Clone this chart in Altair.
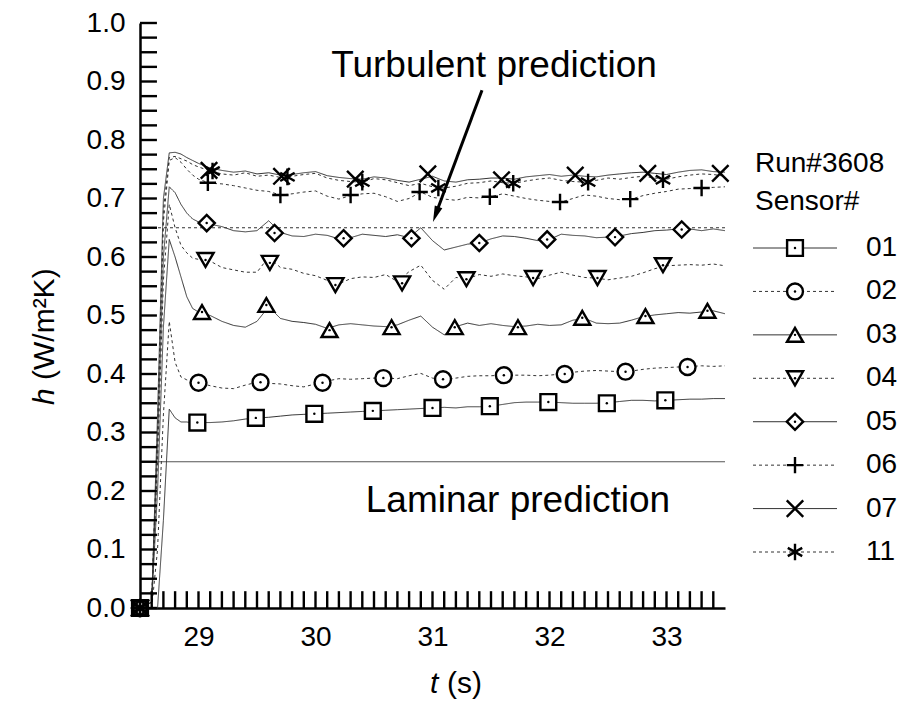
import altair as alt
import pandas as pd

FONT = "Liberation Sans"

SENSORS = ["01", "02", "03", "04", "05", "06", "07", "11"]

# time grid (s)
T = [28.5, 28.6, 28.65, 28.7, 28.75, 28.8, 28.85, 28.9, 28.95,
     29.0, 29.1, 29.2, 29.3, 29.4, 29.5, 29.6, 29.7, 29.8, 29.9,
     30.0, 30.1, 30.2, 30.3, 30.4, 30.5, 30.6, 30.7, 30.8, 30.9,
     31.0, 31.1, 31.2, 31.3, 31.4, 31.5, 31.6, 31.7, 31.8, 31.9,
     32.0, 32.1, 32.2, 32.3, 32.4, 32.5, 32.6, 32.7, 32.8, 32.9,
     33.0, 33.1, 33.2, 33.3, 33.4, 33.5]

H01 = [0, 0, 0.0, 0.15, 0.34, 0.325, 0.318, 0.318, 0.316,
       0.317, 0.317, 0.318, 0.320, 0.323, 0.325, 0.326, 0.328, 0.330, 0.331,
       0.332, 0.333, 0.334, 0.335, 0.336, 0.337, 0.338, 0.339, 0.340, 0.341,
       0.342, 0.343, 0.342, 0.344, 0.344, 0.345, 0.348, 0.351, 0.352, 0.352,
       0.352, 0.351, 0.350, 0.350, 0.350, 0.351, 0.353, 0.355, 0.355, 0.354,
       0.355, 0.356, 0.357, 0.357, 0.358, 0.358]
H02 = [0, 0, 0.1, 0.33, 0.49, 0.42, 0.395, 0.39, 0.387,
       0.385, 0.380, 0.376, 0.375, 0.381, 0.386, 0.384, 0.383, 0.380, 0.378,
       0.383, 0.388, 0.392, 0.391, 0.392, 0.393, 0.393, 0.392, 0.397, 0.401,
       0.393, 0.391, 0.393, 0.396, 0.397, 0.397, 0.398, 0.398, 0.398, 0.397,
       0.398, 0.400, 0.403, 0.405, 0.406, 0.405, 0.404, 0.405, 0.408, 0.410,
       0.411, 0.412, 0.413, 0.414, 0.413, 0.414]
H03 = [0, 0.01, 0.2, 0.48, 0.63, 0.60, 0.566, 0.532, 0.512,
       0.506, 0.500, 0.490, 0.483, 0.480, 0.490, 0.515, 0.495, 0.490, 0.488,
       0.485, 0.478, 0.484, 0.486, 0.484, 0.482, 0.481, 0.484, 0.492, 0.499,
       0.480, 0.467, 0.481, 0.487, 0.483, 0.486, 0.483, 0.481, 0.482, 0.485,
       0.483, 0.484, 0.492, 0.495, 0.487, 0.486, 0.487, 0.492, 0.498, 0.501,
       0.503, 0.505, 0.504, 0.506, 0.508, 0.503]
H04 = [0, 0.01, 0.25, 0.56, 0.69, 0.65, 0.62, 0.607, 0.598,
       0.596, 0.593, 0.582, 0.578, 0.574, 0.574, 0.600, 0.582, 0.579, 0.572,
       0.568, 0.560, 0.554, 0.563, 0.566, 0.565, 0.570, 0.558, 0.575, 0.586,
       0.560, 0.545, 0.565, 0.563, 0.570, 0.567, 0.571, 0.568, 0.566, 0.563,
       0.569, 0.574, 0.569, 0.565, 0.564, 0.561, 0.564, 0.567, 0.573, 0.580,
       0.585, 0.586, 0.587, 0.586, 0.588, 0.585]
H05 = [0, 0.01, 0.28, 0.60, 0.72, 0.71, 0.69, 0.675, 0.665,
       0.660, 0.656, 0.652, 0.645, 0.643, 0.645, 0.662, 0.642, 0.636, 0.635,
       0.639, 0.637, 0.631, 0.633, 0.639, 0.637, 0.635, 0.638, 0.633, 0.650,
       0.628, 0.612, 0.617, 0.622, 0.624, 0.631, 0.636, 0.635, 0.632, 0.628,
       0.630, 0.639, 0.637, 0.636, 0.633, 0.634, 0.636, 0.640, 0.642, 0.645,
       0.646, 0.648, 0.648, 0.645, 0.648, 0.645]
H06 = [0, 0.01, 0.3, 0.66, 0.765, 0.77, 0.762, 0.75, 0.74,
       0.733, 0.726, 0.725, 0.722, 0.718, 0.714, 0.712, 0.706, 0.708, 0.711,
       0.713, 0.704, 0.699, 0.705, 0.708, 0.709, 0.703, 0.695, 0.700, 0.711,
       0.702, 0.699, 0.697, 0.702, 0.701, 0.703, 0.708, 0.704, 0.700, 0.697,
       0.695, 0.694, 0.700, 0.706, 0.704, 0.700, 0.698, 0.699, 0.705, 0.709,
       0.712, 0.716, 0.717, 0.718, 0.719, 0.720]
H07 = [0, 0.01, 0.33, 0.70, 0.778, 0.779, 0.776, 0.77, 0.765,
       0.760, 0.752, 0.748, 0.745, 0.747, 0.742, 0.744, 0.740, 0.741, 0.744,
       0.746, 0.739, 0.736, 0.734, 0.733, 0.737, 0.735, 0.731, 0.728, 0.733,
       0.738, 0.730, 0.728, 0.732, 0.733, 0.735, 0.735, 0.733, 0.737, 0.739,
       0.741, 0.738, 0.740, 0.738, 0.737, 0.740, 0.742, 0.744, 0.745, 0.743,
       0.741, 0.745, 0.748, 0.749, 0.746, 0.745]
H11 = [0, 0.01, 0.3, 0.68, 0.77, 0.772, 0.768, 0.764, 0.758,
       0.754, 0.747, 0.742, 0.740, 0.744, 0.738, 0.740, 0.736, 0.738, 0.741,
       0.743, 0.735, 0.731, 0.729, 0.728, 0.734, 0.732, 0.727, 0.722, 0.726,
       0.720, 0.718, 0.721, 0.726, 0.727, 0.730, 0.727, 0.726, 0.730, 0.733,
       0.735, 0.731, 0.729, 0.728, 0.731, 0.735, 0.733, 0.736, 0.738, 0.735,
       0.733, 0.737, 0.740, 0.742, 0.741, 0.738]

# marker positions
MT01 = [28.5, 28.99, 29.49, 29.99, 30.49, 31.0, 31.49, 31.99, 32.49, 32.99]
MH01 = [0.0, 0.317, 0.325, 0.332, 0.337, 0.342, 0.345, 0.352, 0.350, 0.355]
MT02 = [28.5, 29.0, 29.53, 30.06, 30.58, 31.09, 31.61, 32.13, 32.65, 33.18]
MH02 = [0.0, 0.385, 0.386, 0.385, 0.393, 0.391, 0.398, 0.400, 0.404, 0.412]
MT03 = [28.5, 29.03, 29.58, 30.12, 30.65, 31.19, 31.73, 32.28, 32.82, 33.35]
MH03 = [0.0, 0.506, 0.518, 0.475, 0.480, 0.480, 0.480, 0.496, 0.499, 0.508]
MT04 = [28.5, 29.06, 29.61, 30.17, 30.74, 31.29, 31.86, 32.41, 32.97]
MH04 = [0.0, 0.595, 0.590, 0.552, 0.555, 0.562, 0.564, 0.564, 0.586]
MT05 = [28.5, 29.07, 29.65, 30.24, 30.82, 31.40, 31.98, 32.56, 33.13]
MH05 = [0.0, 0.658, 0.641, 0.632, 0.632, 0.624, 0.630, 0.634, 0.647]
MT06 = [28.5, 29.08, 29.70, 30.30, 30.89, 31.49, 32.09, 32.69, 33.30]
MH06 = [0.0, 0.727, 0.706, 0.706, 0.711, 0.703, 0.694, 0.699, 0.718]
MT07 = [28.5, 29.09, 29.71, 30.34, 30.96, 31.59, 32.22, 32.84, 33.46]
MH07 = [0.0, 0.748, 0.738, 0.733, 0.742, 0.732, 0.740, 0.743, 0.743]
MT11 = [28.5, 29.12, 29.76, 30.40, 31.05, 31.69, 32.33, 32.97]
MH11 = [0.0, 0.747, 0.737, 0.728, 0.718, 0.726, 0.728, 0.732]

LAMINAR = 0.25
TURBULENT = 0.65
T_RANGE = [28.5, 33.5]
H_RANGE = [0.0, 1.0]

ANNOT_LABELS = ["Turbulent prediction", "Laminar prediction"]
ANNOT_T = [31.526, 31.73]
ANNOT_H = [0.908, 0.164]

ARROW_T = [31.423, 31.04]
ARROW_H = [0.885, 0.68]
ARROW_TIP = [31.004, 0.66]

X_TICKS = [29, 30, 31, 32, 33]
Y_TICKS = [0.0, 0.1, 0.2, 0.3, 0.4, 0.5, 0.6, 0.7, 0.8, 0.9, 1.0]

LEGEND_HEADER = ["Run#3608", "Sensor#"]

# ---------------- styles ----------------
DASHES = [[1, 0], [4, 2], [1.5, 2], [6, 3], [6, 2, 1.5, 2], [2, 2], [10, 1.5], [1.5, 1.5]]
PLUS = "M-1,0L1,0M0,-1L0,1"
XSHAPE = "M-1,-1L1,1M-1,1L1,-1"
STAR = "M0,-1L0,1M-0.87,-0.5L0.87,0.5M-0.87,0.5L0.87,-0.5"
SHAPES = ["square", "circle", "triangle-up", "triangle-down", "diamond", PLUS, XSHAPE, STAR]
SIZES = [250, 290, 360, 360, 320, 200, 280, 330]
ARROWHEAD = "M0,0L-0.8,-3.2L0.8,-3.2Z"
# inward tick glyphs drawn by the marker layer (segment from anchor into the plot)
TICK_KINDS = ["xmaj", "xmin", "ymaj", "ymin"]
TICK_SHAPES = ["M0,0L0,-2", "M0,0L0,-2", "M0,0L2,0", "M0,0L2,0"]
TICK_SIZES = [100, 36, 100, 36]

PLOT_W = 585
PLOT_H = 585
LEG_TOP_PX = 225
LEG_STEP_PX = 43.43

H_ALL = [H01, H02, H03, H04, H05, H06, H07, H11]
MT_ALL = [MT01, MT02, MT03, MT04, MT05, MT06, MT07, MT11]
MH_ALL = [MH01, MH02, MH03, MH04, MH05, MH06, MH07, MH11]

rows = []
for s, hs in zip(SENSORS, H_ALL):
    for i, (t, h) in enumerate(zip(T, hs)):
        rows.append({"sensor": s, "t": t, "h": h, "i": i})
lines_df = pd.DataFrame(rows)

mrows = []
for s, ts, hs in zip(SENSORS, MT_ALL, MH_ALL):
    for t, h in zip(ts, hs):
        mrows.append({"sensor": s, "t": t, "h": h})

# axis tick positions (decoration) appended to the glyph table
x_minor = [round(28.5 + 0.1 * k, 1) for k in range(1, 50)]
x_minor = [v for v in x_minor if abs(v - round(v)) > 1e-6]
y_minor = [round(0.025 * k, 3) for k in range(41) if k % 4 != 0]
trows = [{"sensor": "xmaj", "t": v, "h": 0.0} for v in X_TICKS]
trows += [{"sensor": "xmin", "t": v, "h": 0.0} for v in x_minor]
trows += [{"sensor": "ymaj", "t": T_RANGE[0], "h": v} for v in Y_TICKS]
trows += [{"sensor": "ymin", "t": T_RANGE[0], "h": v} for v in y_minor]

mk_df = pd.DataFrame(mrows)
glyph_df = pd.DataFrame(mrows + trows)
dot_df = mk_df[mk_df["sensor"].isin(SENSORS[:5])]

pred_df = pd.DataFrame({
    "t": T_RANGE + T_RANGE,
    "h": [LAMINAR, LAMINAR, TURBULENT, TURBULENT],
    "kind": ["lam", "lam", "turb", "turb"],
})
annot_df = pd.DataFrame({"t": ANNOT_T, "h": ANNOT_H, "label": ANNOT_LABELS})
arrow_df = pd.DataFrame({"t": [ARROW_T[0]], "h": [ARROW_H[0]], "t2": [ARROW_T[1]], "h2": [ARROW_H[1]]})
tip_df = pd.DataFrame({"t": [ARROW_TIP[0]], "h": [ARROW_TIP[1]]})

leg_df = pd.DataFrame({
    "sensor": SENSORS,
    "ly": [1.0 - (LEG_TOP_PX + k * LEG_STEP_PX) / PLOT_H for k in range(len(SENSORS))],
})

xs = alt.Scale(domain=T_RANGE, nice=False, zero=False)
ys = alt.Scale(domain=H_RANGE, nice=False, zero=False)
xaxis = alt.Axis(values=X_TICKS, format="d", title=None, ticks=False, grid=False,
                 labelPadding=15, labelFontSize=28, labelFont=FONT, labelColor="black",
                 domainColor="black", domainWidth=2.5)
yaxis = alt.Axis(values=Y_TICKS, format=".1f", title=None, ticks=False, grid=False,
                 labelPadding=15, labelFontSize=28, labelFont=FONT, labelColor="black",
                 domainColor="black", domainWidth=2.5)
X = alt.X("t:Q", scale=xs, axis=xaxis)
Y = alt.Y("h:Q", scale=ys, axis=yaxis)
LY = alt.Y("ly:Q", scale=ys, axis=yaxis)

GLYPH_DOMAIN = SENSORS + TICK_KINDS
dash_scale = alt.Scale(domain=SENSORS, range=DASHES)
shape_scale = alt.Scale(domain=GLYPH_DOMAIN, range=SHAPES + TICK_SHAPES)
size_scale = alt.Scale(domain=GLYPH_DOMAIN, range=SIZES + TICK_SIZES)

pred = alt.Chart(pred_df).mark_line(strokeWidth=1.2).encode(
    x=X, y=Y, detail="kind:N",
    color=alt.Color("kind:N", scale=alt.Scale(domain=["lam", "turb"], range=["#555555", "#333333"]), legend=None),
    strokeDash=alt.StrokeDash("kind:N", scale=alt.Scale(domain=["lam", "turb"], range=[[1, 0], [3, 3]]), legend=None),
)

lines = alt.Chart(lines_df).mark_line(color="#333333", strokeWidth=1).encode(
    x=X, y=Y, order="i:Q",
    detail="sensor:N",
    strokeDash=alt.StrokeDash("sensor:N", scale=dash_scale, legend=None),
)

markers = alt.Chart(glyph_df).mark_point(filled=True, fill="white", stroke="black",
                                         strokeWidth=2.4, opacity=1).encode(
    x=X, y=Y,
    shape=alt.Shape("sensor:N", scale=shape_scale, legend=None),
    size=alt.Size("sensor:O", scale=size_scale, legend=None),
)
dots = alt.Chart(dot_df).mark_point(filled=True, color="black", size=6, shape="circle", opacity=1).encode(x=X, y=Y)

annot = alt.Chart(annot_df).mark_text(font=FONT, fontSize=37, align="center", baseline="alphabetic",
                                      color="black").encode(x=X, y=Y, text="label:N")
arrow = alt.Chart(arrow_df).mark_rule(color="black", strokeWidth=3).encode(
    x=X, y=Y, x2="t2:Q", y2="h2:Q")
tip = alt.Chart(tip_df).mark_point(shape=ARROWHEAD, size=100, angle=20.4, filled=True,
                                   color="black", opacity=1).encode(x=X, y=Y)


def txt(s, x, y, style="normal", angle=0, size=30):
    return alt.Chart(pd.DataFrame({"s": [s]})).mark_text(
        font=FONT, fontSize=size, fontStyle=style, align="left", baseline="alphabetic",
        angle=angle, color="black").encode(text="s:N", x=alt.value(x), y=alt.value(y))


xt1 = txt("t", 290, 670, "italic")
xt2 = txt("(s)", 307, 670)
yt1 = txt("h", -86, 382, "italic", 270)
yt2 = txt("(W/m\u00b2K)", -86, 357, "normal", 270)
hdr1 = txt(LEGEND_HEADER[0], 615, 149, size=28)
hdr2 = txt(LEGEND_HEADER[1], 615, 187, size=28)

leg_line = alt.Chart(leg_df).mark_rule(color="#333333", strokeWidth=1).encode(
    y=LY, x=alt.value(613), x2=alt.value(697),
    strokeDash=alt.StrokeDash("sensor:N", scale=dash_scale, legend=None))
leg_mk = alt.Chart(leg_df).mark_point(filled=True, fill="white", stroke="black",
                                      strokeWidth=2.4, opacity=1).encode(
    y=LY, x=alt.value(655),
    shape=alt.Shape("sensor:N", scale=shape_scale, legend=None),
    size=alt.Size("sensor:O", scale=size_scale, legend=None))
leg_dot = alt.Chart(leg_df[leg_df["sensor"].isin(SENSORS[:5])]).mark_point(
    filled=True, color="black", size=6, shape="circle", opacity=1).encode(y=LY, x=alt.value(655))
leg_txt = alt.Chart(leg_df).mark_text(font=FONT, fontSize=28, align="left", baseline="middle",
                                      color="black").encode(y=LY, x=alt.value(726), text="sensor:N")

chart = alt.layer(
    pred, lines, markers, dots, annot, arrow, tip,
    xt1, xt2, yt1, yt2, hdr1, hdr2,
    leg_line, leg_mk, leg_dot, leg_txt,
).properties(
    width=PLOT_W, height=PLOT_H,
    autosize=alt.AutoSizeParams(type="none"),
    padding={"left": 140, "top": 23, "right": 181, "bottom": 98},
    background="white",
).configure_view(stroke=None)

chart.save("out.html", embed_options={"renderer": "svg", "actions": False})
